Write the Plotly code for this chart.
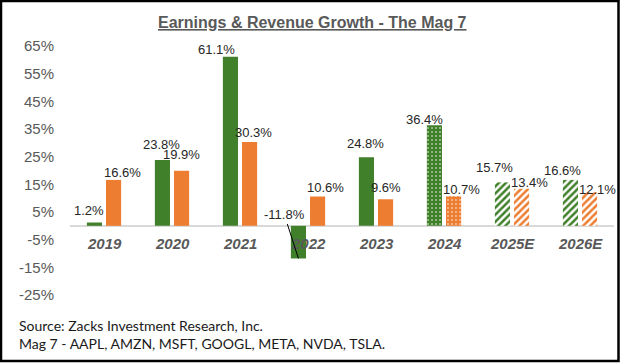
import plotly.graph_objects as go

# ---- data ----
categories = ["2019", "2020", "2021", "2022", "2023", "2024", "2025E", "2026E"]
earnings = [1.2, 23.8, 61.1, -11.8, 24.8, 36.4, 15.7, 16.6]
revenue = [16.6, 19.9, 30.3, 10.6, 9.6, 10.7, 13.4, 12.1]
y_ticks = [-25, -15, -5, 5, 15, 25, 35, 45, 55, 65]
y_tick_labels = ["-25%", "-15%", "-5%", "5%", "15%", "25%", "35%", "45%", "55%", "65%"]
bar_style = ["solid", "solid", "solid", "solid", "solid", "dots", "stripes", "stripes"]

# ---- label nudges (pixels) ----
g_dx = [-5, -1, -14, 0, -1, -9.5, -8, -8]
g_dy = [11.7, 15.3, 7, 0, 14, 6, 15, 9.3]
o_dx = [9, 0, 3.5, 7.5, 0, 7.7, 8, 8]
o_dy = [7.7, 16, 10, 9, 11.3, 7, 6, 2.6]

GREEN = "#41802a"
ORANGE = "#ED7D31"
W, H = 620, 363
ML, MR, MT, MB = 70, 6, 46, 68
PW, PH = W - ML - MR, H - MT - MB
BARGAP, GROUPGAP = 0.437, 0.21
half_slot = (PW / len(categories)) * (1 - BARGAP) / 4  # distance from category centre to bar centre


def pattern_for(color):
    shapes, fg, bg, sz, sol = [], [], [], [], []
    for s in bar_style:
        if s == "dots":
            shapes.append("."); fg.append("white"); bg.append(color); sz.append(4); sol.append(0.12)
        elif s == "stripes":
            shapes.append("/"); fg.append(color); bg.append("white"); sz.append(5); sol.append(0.5)
        else:
            shapes.append(""); fg.append(color); bg.append(color); sz.append(5); sol.append(0.3)
    return dict(shape=shapes, fgcolor=fg, bgcolor=bg, size=sz, solidity=sol, fillmode="replace")


fig = go.Figure()
fig.add_trace(go.Bar(x=categories, y=earnings, name="Earnings",
                     marker=dict(color=GREEN, line=dict(width=0), pattern=pattern_for(GREEN))))
fig.add_trace(go.Bar(x=categories, y=revenue, name="Revenue",
                     marker=dict(color=ORANGE, line=dict(width=0), pattern=pattern_for(ORANGE))))

LABEL_FONT = dict(family="Liberation Sans, Arial", size=13, color="#262626")
XLAB_FONT = dict(family="Liberation Sans, Arial", size=15, color="#595959", weight="bold", style="italic")
annotations = []
# category labels (x given as category index on the category axis)
for i, c in enumerate(categories):
    annotations.append(dict(x=i, y=0, xref="x", yref="y", text=c, showarrow=False,
                            yanchor="top", yshift=-7, font=XLAB_FONT))
for i, c in enumerate(categories):
    v = earnings[i]
    if v >= 0:
        annotations.append(dict(x=i, y=v, xref="x", yref="y", text=f"{v:.1f}%", showarrow=False,
                                xshift=-half_slot + g_dx[i], yshift=g_dy[i], yanchor="middle",
                                font=LABEL_FONT))
    else:
        annotations.append(dict(x=i, y=v, xref="x", yref="y", text=f"{v:.1f}%", showarrow=True,
                                xshift=-half_slot, ax=-14, ay=-43.5, arrowhead=0, arrowwidth=1,
                                arrowcolor="black", standoff=0, font=LABEL_FONT))
    r = revenue[i]
    annotations.append(dict(x=i, y=r, xref="x", yref="y", text=f"{r:.1f}%", showarrow=False,
                            xshift=half_slot + o_dx[i], yshift=o_dy[i], yanchor="middle",
                            font=LABEL_FONT))

# footer text
FOOT = dict(family="Lato, Open Sans", size=14, color="#1a1a1a")
annotations.append(dict(xref="paper", yref="paper", x=(17 - ML) / PW, y=(H - MB - 325) / PH,
                        text="Source: Zacks Investment Research, Inc.", showarrow=False,
                        xanchor="left", yanchor="middle", font=FOOT))
annotations.append(dict(xref="paper", yref="paper", x=(17 - ML) / PW, y=(H - MB - 343) / PH,
                        text="Mag 7 - AAPL, AMZN, MSFT, GOOGL, META, NVDA, TSLA.", showarrow=False,
                        xanchor="left", yanchor="middle", font=FOOT))

# title
annotations.append(dict(xref="paper", yref="paper", x=(312 - ML) / PW, y=(H - MB - 23) / PH,
                        text="<b><u>Earnings & Revenue Growth - The Mag 7</u></b>", showarrow=False,
                        xanchor="center", yanchor="middle",
                        font=dict(family="Liberation Sans, Arial", size=16, color="#595959")))

ymin, ymax = y_ticks[0], y_ticks[-1]

# outer border
shapes = [dict(type="rect", xref="paper", yref="paper",
               x0=(1 - ML) / PW, x1=(618.5 - ML) / PW,
               y0=(H - MB - 361) / PH, y1=(H - MB - 1) / PH,
               line=dict(color="black", width=2.5), fillcolor="rgba(0,0,0,0)", layer="above")]

fig.update_layout(
    width=W, height=H,
    margin=dict(l=ML, r=MR, t=MT, b=MB),
    paper_bgcolor="white", plot_bgcolor="white",
    barmode="group", bargap=BARGAP, bargroupgap=GROUPGAP,
    showlegend=False,
    annotations=annotations,
    shapes=shapes,
    xaxis=dict(type="category", categoryorder="array", categoryarray=categories,
               range=[-0.5, len(categories) - 0.5], showgrid=False, showline=False,
               zeroline=False, ticks="", showticklabels=False),
    yaxis=dict(range=[ymin, ymax], tickvals=y_ticks, ticktext=y_tick_labels, showgrid=False,
               zeroline=True, zerolinecolor="#d9d9d9", zerolinewidth=1.5,
               showline=False, ticks="", ticklabelstandoff=15,
               tickfont=dict(family="Liberation Sans, Arial", size=15, color="#595959")),
)

fig.write_html("out.html", config={"displayModeBar": False},
               post_script="document.body.style.margin='0';document.body.style.overflow='hidden';")
